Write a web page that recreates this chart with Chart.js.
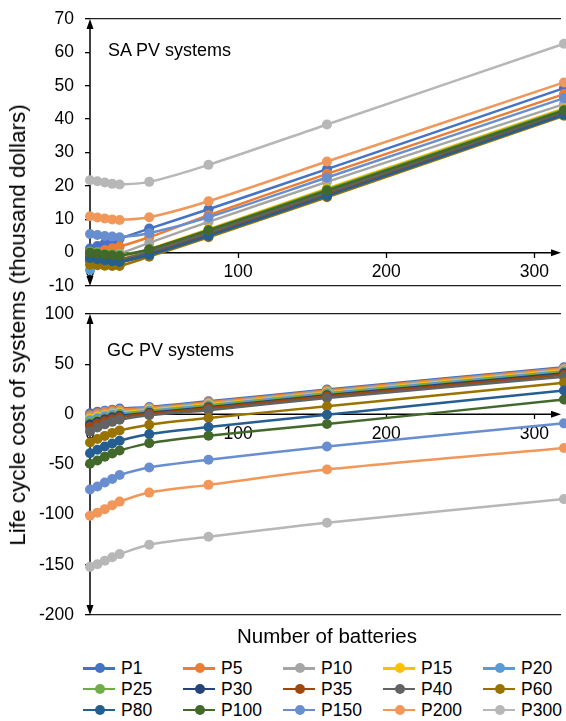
<!DOCTYPE html>
<html>
<head>
<meta charset="utf-8">
<script src="https://cdn.jsdelivr.net/npm/chart.js@4.4.0/dist/chart.umd.min.js"></script>
<style>
  body { margin: 0; background: #fff; font-family: "Liberation Sans", Arial, sans-serif; color: #000; }
  #wrap { position: relative; width: 566px; height: 721px; overflow: hidden; }
  canvas { position: absolute; left: 0; }
  #saChart { top: 0; }
  #gcChart { top: 300px; }
  .note { position: absolute; font-size: 18px; line-height: 20px; white-space: nowrap; }
  #ytitle { position: absolute; left: 18px; top: 325px; font-size: 22.5px; white-space: nowrap;
            transform: translate(-50%, -50%) rotate(-90deg); }
  #xtitle { position: absolute; left: 327px; top: 625px; font-size: 20.5px; line-height: 22px;
            transform: translateX(-50%); white-space: nowrap; }
  #legend { position: absolute; left: 83px; top: 658px; display: grid;
            grid-template-columns: repeat(5, 100px); }
  .item { display: flex; align-items: center; height: 20.8px; font-size: 17.5px; }
  .sym { position: relative; width: 32px; height: 2.5px; margin-right: 6px; }
  .sym i { position: absolute; left: 12px; top: -3.75px; width: 10px; height: 10px; border-radius: 50%; }
</style>
</head>
<body>
<div id="wrap">
  <canvas id="saChart" width="566" height="300"></canvas>
  <canvas id="gcChart" width="566" height="325"></canvas>
  <div class="note" style="left:108px; top:40px;">SA PV systems</div>
  <div class="note" style="left:107px; top:340px;">GC PV systems</div>
  <div id="ytitle">Life cycle cost of systems (thousand dollars)</div>
  <div id="xtitle">Number of batteries</div>
  <div id="legend"></div>
</div>
<script>
// Número de baterias (eixo x)
const batteries = [0, 5, 10, 15, 20, 40, 80, 160, 320];

const seriesNames = ['P1', 'P5', 'P10', 'P15', 'P20', 'P25', 'P30', 'P35', 'P40', 'P60', 'P80', 'P100', 'P150', 'P200', 'P300'];
const seriesColors = ['#4472C4', '#ED7D31', '#A5A5A5', '#FFC000', '#5B9BD5', '#70AD47', '#264478', '#9E480E',
                      '#636363', '#997300', '#255E91', '#43682B', '#698ED0', '#F1975A', '#B7B7B7'];

// SA PV systems, one row per series (same order as seriesNames)
const saValues = [
  [1.2, 2.0, 2.8, 3.5, 4.2, 7.2, 13.0, 25.0, 49.3],
  [-0.5, 0.2, 0.8, 1.3, 1.8, 4.6, 11.2, 23.6, 47.5],
  [-1.0, -1.0, -0.8, -0.6, -0.3, 2.9, 9.2, 21.2, 44.5],
  [-2.0, -2.1, -2.2, -2.2, -2.1, 1.0, 7.0, 19.2, 43.2],
  [-5.2, -2.8, -2.9, -2.9, -2.8, 0.5, 6.5, 18.7, 42.8],
  [0.3, 0.0, -0.3, -0.5, -0.6, 0.9, 6.8, 18.9, 42.9],
  [-1.5, -1.8, -2.0, -2.2, -2.3, 0.0, 5.8, 17.8, 42.0],
  [-2.5, -2.7, -2.9, -3.0, -3.0, -0.5, 5.3, 17.3, 41.6],
  [-1.0, -1.3, -1.6, -1.8, -2.0, 0.3, 6.0, 18.0, 42.2],
  [-3.6, -3.8, -3.9, -4.0, -4.0, -1.2, 4.6, 16.6, 41.0],
  [-1.6, -2.0, -2.3, -2.6, -2.8, -0.7, 5.0, 17.0, 41.3],
  [0.0, -0.3, -0.6, -0.8, -1.0, 1.0, 6.7, 18.6, 42.6],
  [5.6, 5.3, 5.0, 4.8, 4.6, 5.8, 10.6, 22.5, 46.3],
  [10.9, 10.5, 10.2, 9.9, 9.8, 10.6, 15.4, 27.3, 51.0],
  [21.7, 21.4, 21.0, 20.6, 20.4, 21.2, 26.3, 38.4, 62.6]
];

// GC PV systems
const gcValues = [
  [1, 2.5, 3.5, 4.5, 5.7, 7.3, 13, 24.7, 47],
  [-1, 1, 2.5, 3.5, 4.5, 6.5, 12, 23.7, 46],
  [-3, -1, 0.5, 2, 3, 5.5, 11, 22.7, 45],
  [-4.5, -2.5, -1, 0.5, 1.5, 4.5, 10, 21.7, 44],
  [-6, -4, -2, -0.5, 0.5, 3.5, 9, 21, 43],
  [-8, -5.5, -3.5, -1.5, -0.5, 2.5, 8, 20, 42],
  [-10, -7.5, -5, -3, -1.5, 1.5, 7, 19, 41],
  [-12.5, -9.5, -7, -5, -3, 0.5, 6, 18, 39.5],
  [-17, -13, -10, -7.5, -5.3, -1, 4, 16.3, 37.5],
  [-28, -24.5, -21.5, -18.5, -16, -10.3, -3.7, 8, 31.5],
  [-38.7, -35.3, -32, -29, -26.3, -19.7, -12.7, -0.3, 23.7],
  [-49.3, -46, -42.3, -39, -36, -28.7, -21.3, -9.7, 14.7],
  [-75, -72, -68, -64.5, -60.5, -53, -45.3, -32, -9],
  [-101, -98, -94.5, -90.5, -87, -78, -70.3, -55, -33.5],
  [-152, -149.5, -146, -142.5, -139.3, -130, -122, -108, -84.5]
];

Chart.defaults.font.family = '"Liberation Sans", Arial, sans-serif';
Chart.defaults.color = '#000';

function arrow(ctx, tx, ty, dx, dy) {
  const len = 10, half = 3.5;
  ctx.beginPath();
  ctx.moveTo(tx, ty);
  ctx.lineTo(tx - dx * len - dy * half, ty - dy * len + dx * half);
  ctx.lineTo(tx - dx * len + dy * half, ty - dy * len - dx * half);
  ctx.closePath();
  ctx.fill();
}

// Eixos com setas cruzando em zero
const crossAxes = {
  id: 'crossAxes',
  beforeDatasetsDraw(chart) {
    const { ctx, chartArea: a, scales: { x, y } } = chart;
    const x0 = x.getPixelForValue(0), y0 = y.getPixelForValue(0);
    ctx.save();
    ctx.strokeStyle = '#000';
    ctx.fillStyle = '#000';
    ctx.lineWidth = 1.5;
    ctx.beginPath();
    ctx.moveTo(x0, a.top + 3);
    ctx.lineTo(x0, a.bottom - 3);
    ctx.moveTo(x0, y0);
    ctx.lineTo(a.right - 3, y0);
    ctx.stroke();
    arrow(ctx, x0, a.top, 0, -1);
    arrow(ctx, x0, a.bottom, 0, 1);
    arrow(ctx, a.right, y0, 1, 0);
    ctx.restore();
  }
};

function makeChart(id, values, yMin, yMax, yStep, padTop, padBottom) {
  const ctx = document.getElementById(id).getContext('2d');
  return new Chart(ctx, {
    type: 'line',
    data: {
      datasets: seriesNames.map((name, i) => ({
        label: name,
        data: batteries.map((b, j) => ({ x: b, y: values[i][j] })),
        borderColor: seriesColors[i],
        backgroundColor: seriesColors[i],
        borderWidth: 2.5,
        pointRadius: 5,
        pointBorderWidth: 0,
        pointHoverRadius: 5,
        tension: 0.3,
        clip: false,
        order: seriesNames.length - i
      }))
    },
    options: {
      responsive: false,
      animation: false,
      events: [],
      layout: { padding: { top: padTop, bottom: padBottom, left: 0, right: 0 } },
      plugins: { legend: { display: false }, tooltip: { enabled: false } },
      scales: {
        x: {
          type: 'linear',
          min: 0,
          max: 318,
          position: { y: 0 },
          ticks: { stepSize: 100, includeBounds: false, maxRotation: 0, padding: 4, font: { size: 17.5 } },
          grid: { drawOnChartArea: false, tickLength: 5, tickColor: '#000', tickWidth: 1.3 },
          border: { display: false },
          afterFit: s => { s.paddingLeft = 0; s.paddingRight = 0; }
        },
        y: {
          min: yMin,
          max: yMax,
          ticks: { stepSize: yStep, padding: 11, font: { size: 17.5 } },
          grid: {
            color: c => (c.tick && (c.tick.value === yMin || c.tick.value === yMax)) ? '#222' : 'rgba(0,0,0,0)',
            lineWidth: 1.3,
            tickColor: '#000',
            tickLength: 5,
            tickWidth: 1.3
          },
          border: { display: false },
          afterFit: s => { s.width = 90; s.paddingTop = 0; s.paddingBottom = 0; }
        }
      }
    },
    plugins: [crossAxes]
  });
}

makeChart('saChart', saValues, -10, 70, 10, 19, 14);
makeChart('gcChart', gcValues, -200, 100, 50, 14, 10);

// Legenda em grade 5 x 3
const legend = document.getElementById('legend');
seriesNames.forEach((name, i) => {
  const item = document.createElement('div');
  item.className = 'item';
  item.innerHTML = '<span class="sym" style="background:' + seriesColors[i] + '"><i style="background:' +
    seriesColors[i] + '"></i></span>' + name;
  legend.appendChild(item);
});
</script>
</body>
</html>
